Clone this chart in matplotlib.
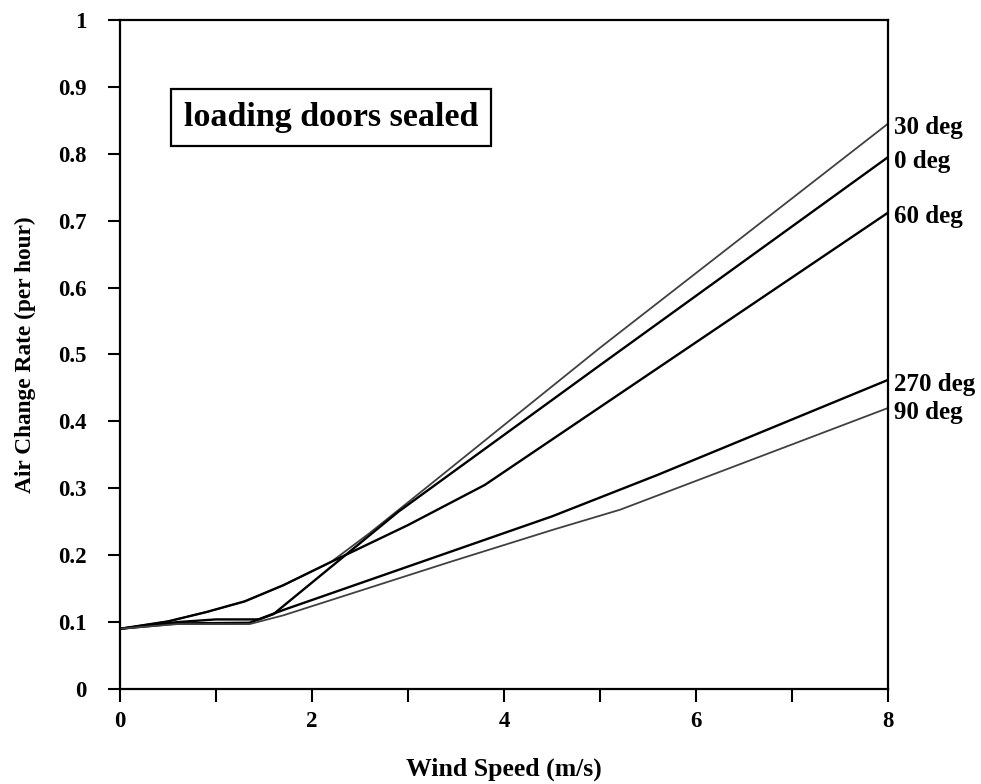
import numpy as np
import matplotlib
matplotlib.use('Agg')
import matplotlib.pyplot as plt

plt.rcParams['font.family'] = ['Liberation Serif', 'DejaVu Serif']
plt.rcParams['font.weight'] = 'bold'

# wind direction curves
x_0 = [0, 0.6, 1.0, 1.45, 1.6, 2.9, 5.0, 8.0]
y_0 = [0.09, 0.10, 0.104, 0.104, 0.112, 0.265, 0.484, 0.795]

x_30 = [0, 0.5, 0.9, 1.3, 1.7, 2.2, 2.6, 3.2, 5.0, 8.0]
y_30 = [0.09, 0.101, 0.115, 0.131, 0.155, 0.19, 0.233, 0.302, 0.51, 0.845]

x_60 = [0, 0.5, 0.9, 1.3, 1.7, 2.2, 3.0, 3.8, 8.0]
y_60 = [0.09, 0.101, 0.115, 0.131, 0.155, 0.19, 0.245, 0.305, 0.712]

x_90 = [0, 0.6, 1.35, 1.7, 3.44, 4.51, 5.21, 8.0]
y_90 = [0.09, 0.097, 0.097, 0.11, 0.19, 0.238, 0.268, 0.42]

x_270 = [0, 0.6, 1.35, 1.7, 2.5, 3.44, 4.5, 5.6, 8.0]
y_270 = [0.09, 0.098, 0.099, 0.118, 0.158, 0.205, 0.258, 0.32, 0.462]

series = [
    ('30 deg', x_30, y_30, 'dot'),
    ('0 deg', x_0, y_0, 'solid'),
    ('60 deg', x_60, y_60, 'solid'),
    ('270 deg', x_270, y_270, 'solid'),
    ('90 deg', x_90, y_90, 'dot'),
]

xticks = [0, 1, 2, 3, 4, 5, 6, 7, 8]
xticklabels = ['0', '', '2', '', '4', '', '6', '', '8']
yticks = [0, 0.1, 0.2, 0.3, 0.4, 0.5, 0.6, 0.7, 0.8, 0.9, 1.0]
yticklabels = ['0', '0.1', '0.2', '0.3', '0.4', '0.5', '0.6', '0.7', '0.8', '0.9', '1']

fig = plt.figure(figsize=(9.81, 7.84), dpi=100)
ax = fig.add_axes([0.1223, 0.1212, 0.7829, 0.8533])

for name, xs, ys, kind in series:
    if kind == 'dot':
        ax.plot(xs, ys, color='0.25', lw=1.3)
    else:
        ax.plot(xs, ys, color='black', lw=1.7)
    ax.annotate(name, (xs[-1], ys[-1]), xytext=(4, -3), textcoords='offset points',
                ha='left', va='center', fontsize=18, fontweight='bold',
                annotation_clip=False)

ax.set_xlim(0, 8)
ax.set_ylim(0, 1)
ax.set_xticks(xticks)
ax.set_xticklabels(xticklabels)
ax.set_yticks(yticks)
ax.set_yticklabels(yticklabels)
ax.tick_params(axis='both', direction='out', length=9, width=1.5, labelsize=16.5)
ax.tick_params(axis='x', pad=7)
ax.tick_params(axis='y', pad=15)
for sp in ax.spines.values():
    sp.set_linewidth(1.6)

ax.set_xlabel('Wind Speed (m/s)', fontsize=18.5, fontweight='bold', labelpad=18)
ax.set_ylabel('Air Change Rate (per hour)', fontsize=16.8, fontweight='bold', labelpad=16)

ax.text(2.2, 0.854, 'loading doors sealed', ha='center', va='center', fontsize=24.5,
        fontweight='bold',
        bbox=dict(boxstyle='square,pad=0.38', fc='white', ec='black', lw=1.6))

fig.savefig('out.png', dpi=100)
